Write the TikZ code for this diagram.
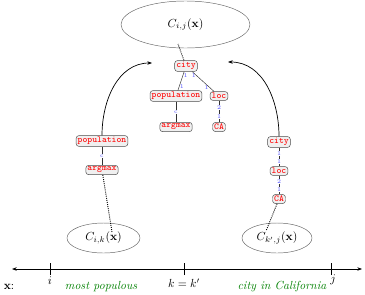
\documentclass[tikz,border=0pt]{standalone}
\usetikzlibrary{arrows.meta,shapes.geometric}
\begin{document}
\begin{tikzpicture}[
    term/.style={draw=black!70, fill=gray!12, rounded corners=2.5pt, inner sep=1.4pt,
        text=red, font=\fontsize{7.8}{8}\selectfont\ttfamily},
    comp/.style={ellipse, draw=black!60, inner sep=0pt},
    lbl/.style={text=blue!70, font=\tiny, inner sep=0.5pt},
    link/.style={black!80},
    trace/.style={densely dotted, thick},
    lift/.style={-{Stealth[length=4pt]}, semithick},
    phrase/.style={text=green!50!black, font=\itshape}
]
\useasboundingbox (0,0) rectangle (10.95,8.82);

% span C_{i,j}
\node[comp, minimum width=3.87cm, minimum height=1.41cm] (Cij) at (5.565,8.085) {$C_{i,j}(\mathbf{x})$};
\node[term] (tcity) at (5.58,6.84) {city};
\node[term] (tpop) at (5.28,5.94) {population};
\node[term] (tloc) at (6.57,5.94) {loc};
\node[term] (targ) at (5.28,5.01) {argmax};
\node[term] (tca) at (6.57,5.01) {CA};

\draw[link] (tcity) -- node[lbl, pos=0.2, right] {1} node[lbl, pos=0.8, right] {1} (tpop);
\draw[link] (tcity) -- node[lbl, pos=0.2, left] {1} node[lbl, pos=0.8, left] {1} (tloc);
\draw[link] (tpop) -- node[lbl, fill=white] {c} (targ);
\draw[link] (tloc) -- node[lbl, pos=0.3, fill=white] {2} node[lbl, pos=0.75, fill=white] {1} (tca);

\coordinate (topin) at (5.34,7.5);
\draw[trace] (tcity) -- (topin);

% span C_{i,k}
\node[term] (lpop) at (3.06,4.59) {population};
\node[term] (larg) at (3.06,3.72) {argmax};
\draw[link] (lpop) -- node[lbl, fill=white] {c} (larg);
\node[comp, minimum width=2.19cm, minimum height=0.9cm] (Cik) at (3.105,1.68) {$C_{i,k}(\mathbf{x})$};
\coordinate (leftin) at (3.36,1.86);
\draw[trace] (larg) -- (leftin);

% span C_{k',j}
\node[term] (rcity) at (8.37,4.56) {city};
\node[term] (rloc) at (8.37,3.69) {loc};
\node[term] (rca) at (8.37,2.85) {CA};
\draw[link] (rcity) -- node[lbl, pos=0.3, fill=white] {1} node[lbl, pos=0.75, fill=white] {1} (rloc);
\draw[link] (rloc) -- node[lbl, pos=0.3, fill=white] {2} node[lbl, pos=0.75, fill=white] {1} (rca);
\node[comp, minimum width=2.1cm, minimum height=0.9cm] (Ckj) at (8.31,1.68) {$C_{k',j}(\mathbf{x})$};
\coordinate (rightin) at (7.98,1.89);
\draw[trace] (rca) -- (rightin);

% combine
\coordinate (lend) at (4.56,6.93);
\coordinate (rend) at (6.84,6.96);
\draw[lift] (lpop.north) to[out=90, in=180] (lend);
\draw[lift] (rcity.north) to[out=90, in=0] (rend);

% sentence axis
\coordinate (axL) at (0.36,0.75);
\coordinate (axR) at (10.86,0.75);
\draw[{Stealth[length=4pt]}-{Stealth[length=4pt]}, semithick] (axL) -- (axR);
\draw[semithick] (1.5,0.57) -- (1.5,0.93);
\draw[semithick] (5.52,0.57) -- (5.52,0.93);
\draw[semithick] (9.93,0.57) -- (9.93,0.93);
\node (ti) at (1.5,0.39) {$i$};
\node (tk) at (5.52,0.33) {$k=k'$};
\node (tj) at (9.99,0.42) {$j$};

\node (xlab) at (0.27,0.21) {$\mathbf{x}$:};
\node[phrase] (most) at (3.03,0.21) {most populous};
\node[phrase] (cal) at (8.46,0.21) {city in California};

\end{tikzpicture}
\end{document}
